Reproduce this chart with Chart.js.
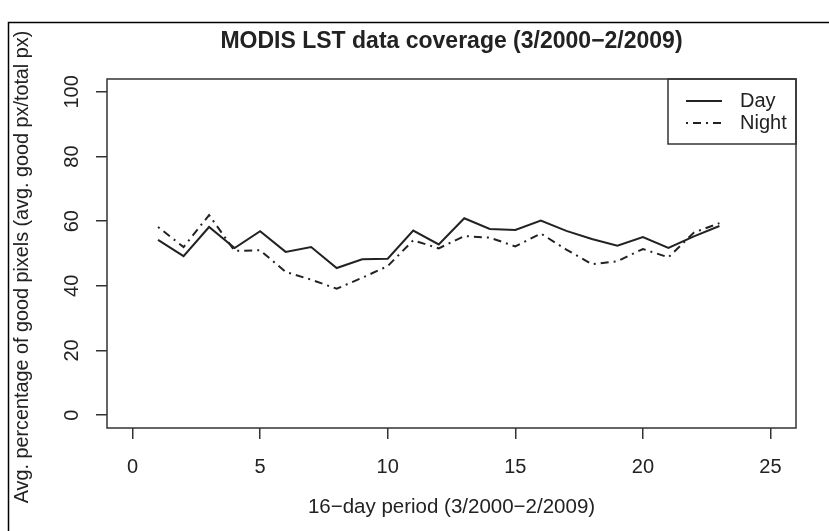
<!DOCTYPE html>
<html>
<head>
<meta charset="utf-8">
<script src="https://cdn.jsdelivr.net/npm/chart.js@4/dist/chart.umd.min.js"></script>
<style>
  html, body { margin: 0; padding: 0; background: #fff; }
  canvas { display: block; }
</style>
</head>
<body>
<canvas id="coverageChart" width="829" height="531"></canvas>
<script>
// 16-day periods 1..23
const periods = [1, 2, 3, 4, 5, 6, 7, 8, 9, 10, 11, 12, 13, 14, 15, 16, 17, 18, 19, 20, 21, 22, 23];
const dayValues = [54.2, 49.2, 58.2, 51.7, 56.9, 50.5, 52.0, 45.5, 48.2, 48.4, 57.1, 52.8, 60.9, 57.6, 57.3, 60.2, 57.0, 54.5, 52.4, 55.1, 51.7, 55.3, 58.5];
const nightValues = [58.2, 52.0, 61.9, 50.8, 51.0, 44.3, 41.9, 39.1, 42.5, 46.1, 54.1, 51.6, 55.4, 54.9, 52.2, 56.2, 51.2, 46.7, 47.6, 51.4, 48.8, 56.5, 59.4];
const xTicks = [0, 5, 10, 15, 20, 25];
const yTicks = [0, 20, 40, 60, 80, 100];

const chartTitle = 'MODIS LST data coverage (3/2000\u22122/2009)';
const xTitle = '16\u2212day period (3/2000\u22122/2009)';
const yTitle = 'Avg. percentage of good pixels (avg. good px/total px)';

const FONT = '"Liberation Sans", Arial, Helvetica, sans-serif';
const INK = '#222';

// R-style base graphics: box, rotated y labels, legend, outer frame
const rStyle = {
  id: 'rStyle',
  afterDraw(chart) {
    const { ctx, chartArea: a, scales } = chart;
    ctx.save();

    // outer frame (left + top only)
    ctx.strokeStyle = '#000';
    ctx.lineWidth = 1.5;
    ctx.beginPath();
    ctx.moveTo(8.5, 531);
    ctx.lineTo(8.5, 22.5);
    ctx.lineTo(829, 22.5);
    ctx.stroke();

    // plot box
    ctx.strokeStyle = '#333';
    ctx.lineWidth = 1.5;
    ctx.strokeRect(a.left, a.top, a.right - a.left, a.bottom - a.top);

    ctx.fillStyle = INK;

    // title
    ctx.font = 'bold 23px ' + FONT;
    ctx.textAlign = 'center';
    ctx.textBaseline = 'middle';
    ctx.fillText(chartTitle, (a.left + a.right) / 2, 42);

    // x tick labels
    ctx.font = '20px ' + FONT;
    xTicks.forEach(v => {
      ctx.fillText(String(v), scales.x.getPixelForValue(v), 467);
    });

    // x title
    ctx.font = '20.5px ' + FONT;
    ctx.fillText(xTitle, (a.left + a.right) / 2, 507);

    // y tick labels (parallel to axis)
    ctx.font = '20px ' + FONT;
    yTicks.forEach(v => {
      ctx.save();
      ctx.translate(72, scales.y.getPixelForValue(v));
      ctx.rotate(-Math.PI / 2);
      ctx.fillText(String(v), 0, 0);
      ctx.restore();
    });

    // y title
    ctx.save();
    ctx.font = '19.8px ' + FONT;
    ctx.translate(23, 267);
    ctx.rotate(-Math.PI / 2);
    ctx.fillText(yTitle, 0, 0);
    ctx.restore();

    // legend
    ctx.font = '20px ' + FONT;
    const lx = 668, ly = a.top, lw = a.right - lx, lh = 65;
    ctx.strokeStyle = '#333';
    ctx.lineWidth = 1.5;
    ctx.strokeRect(lx, ly, lw, lh);
    ctx.textAlign = 'left';
    chart.data.datasets.forEach((ds, i) => {
      const y = ly + 22 + i * 22;
      ctx.strokeStyle = ds.borderColor;
      ctx.lineWidth = ds.borderWidth;
      ctx.setLineDash(ds.borderDash || []);
      ctx.beginPath();
      ctx.moveTo(686, y);
      ctx.lineTo(722, y);
      ctx.stroke();
      ctx.setLineDash([]);
      ctx.fillText(ds.label, 740, y);
    });

    ctx.restore();
  }
};

const toPoints = vals => vals.map((v, i) => ({ x: periods[i], y: v }));

new Chart(document.getElementById('coverageChart').getContext('2d'), {
  type: 'line',
  data: {
    datasets: [
      {
        label: 'Day',
        data: toPoints(dayValues),
        borderColor: INK,
        borderWidth: 2,
        pointRadius: 0,
        tension: 0,
        fill: false
      },
      {
        label: 'Night',
        data: toPoints(nightValues),
        borderColor: INK,
        borderWidth: 2,
        borderDash: [2, 5, 8, 5],
        pointRadius: 0,
        tension: 0,
        fill: false
      }
    ]
  },
  options: {
    responsive: false,
    animation: false,
    layout: { padding: { left: 0, top: 79, right: 33, bottom: 0 } },
    plugins: {
      legend: { display: false },
      title: { display: false },
      tooltip: { enabled: false }
    },
    scales: {
      x: {
        type: 'linear',
        min: -1,
        max: 26,
        afterBuildTicks: s => { s.ticks = xTicks.map(v => ({ value: v })); },
        afterFit: s => { s.height = 103; },
        ticks: { display: false },
        border: { display: false },
        grid: { drawOnChartArea: false, drawTicks: true, tickLength: 11, color: '#333', lineWidth: 1.5 }
      },
      y: {
        type: 'linear',
        min: -4,
        max: 104,
        afterBuildTicks: s => { s.ticks = yTicks.map(v => ({ value: v })); },
        afterFit: s => { s.width = 107; },
        ticks: { display: false },
        border: { display: false },
        grid: { drawOnChartArea: false, drawTicks: true, tickLength: 11, color: '#333', lineWidth: 1.5 }
      }
    }
  },
  plugins: [rStyle]
});
</script>
</body>
</html>
